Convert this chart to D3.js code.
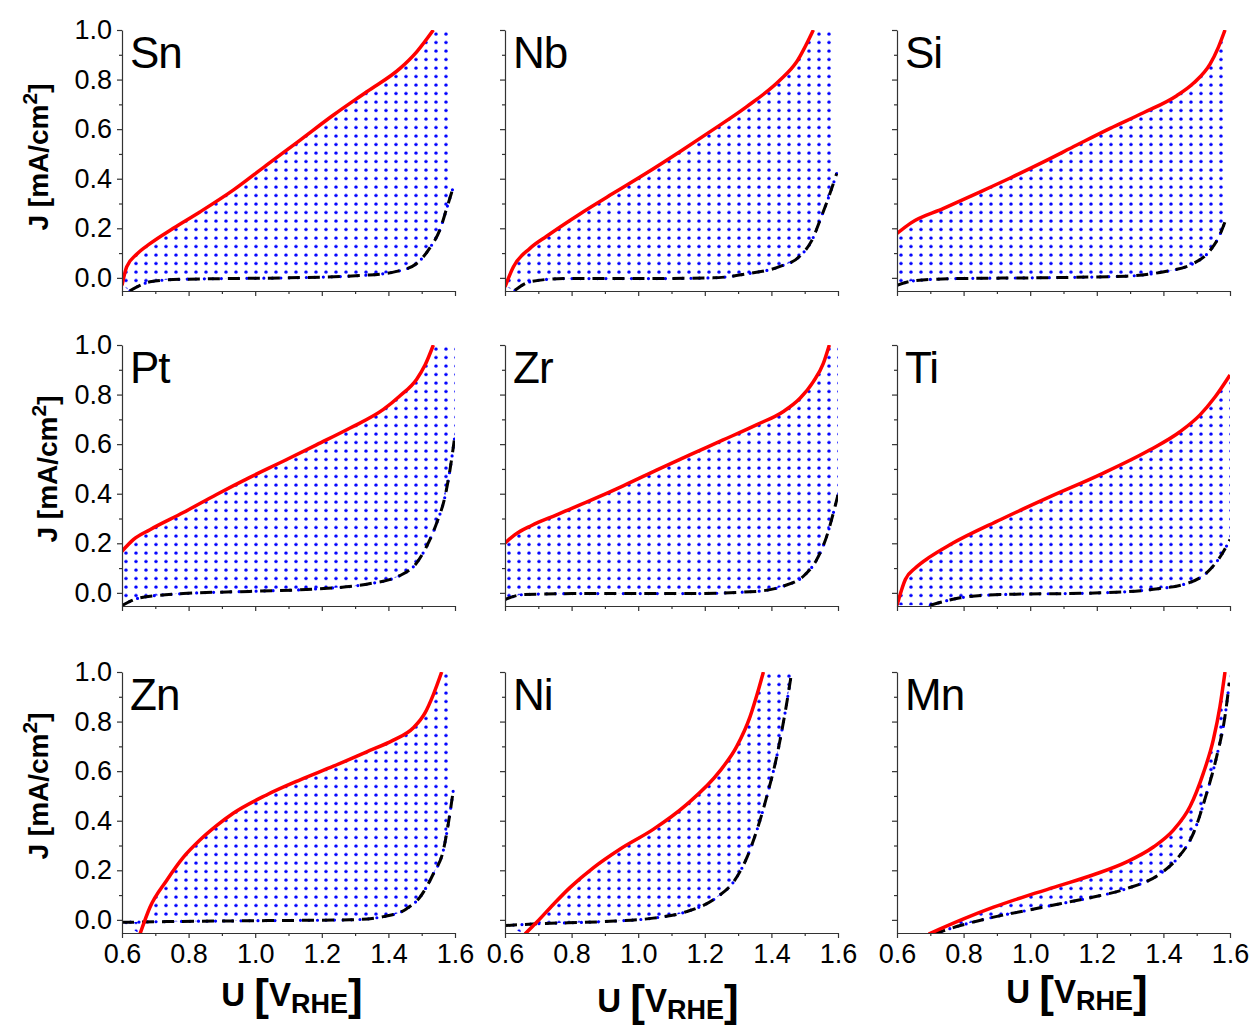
<!DOCTYPE html>
<html lang="en">
<head>
<meta charset="UTF-8">
<script src="https://d3js.org/d3.v7.min.js"></script>
<title>J-U curves</title>
<style>
    body { margin: 0; background: #fff; }
    svg { display: block; font-family: "Liberation Sans", Arial, sans-serif; }
    .axis path, .axis line { stroke: #333; stroke-width: 1.2px; }
    .axis text { font-size: 27px; fill: #000; font-family: "Liberation Sans", Arial, sans-serif; }
    .red { fill: none; stroke: #ff0000; stroke-width: 3.5px; }
    .dash { fill: none; stroke: #000; stroke-width: 3px; stroke-dasharray: 12 8; }
    .dots { fill: none; stroke: #0000ff; stroke-width: 3.2px; stroke-dasharray: 0 8.5; stroke-linecap: round; }
    .name { font-size: 44px; letter-spacing: -1px; }
    .ylab, .xlab { font-weight: bold; }
</style>
</head>
<body>
<svg id="chart" width="1257" height="1025"></svg>
<script>
// panel names, in reading order
const metals = ["Sn", "Nb", "Si", "Pt", "Zr", "Ti", "Zn", "Ni", "Mn"];
const xTicks = [0.6, 0.8, 1.0, 1.2, 1.4, 1.6];
const xMinor = [0.7, 0.9, 1.1, 1.3, 1.5];
const yTicks = [0.0, 0.2, 0.4, 0.6, 0.8, 1.0];
const yMinor = [0.1, 0.3, 0.5, 0.7, 0.9];

// [U, J]: red = solid curve, dash = black dashed curve
const redSn = [[0.6,-0.03],[0.614,0.044],[0.644,0.095],[0.684,0.138],[0.754,0.2],[0.834,0.266],[0.934,0.354],[1.034,0.455],[1.135,0.556],[1.235,0.657],[1.335,0.751],[1.435,0.845],[1.485,0.912],[1.535,1.0]];
const dashSn = [[0.624,-0.052],[0.684,-0.016],[0.754,-0.007],[0.9,-0.003],[1.1,0.0],[1.335,0.011],[1.425,0.026],[1.485,0.058],[1.525,0.122],[1.555,0.195],[1.575,0.28],[1.595,0.367]];
const redNb = [[0.6,-0.036],[0.625,0.044],[0.675,0.119],[0.725,0.168],[0.825,0.258],[0.925,0.341],[1.025,0.423],[1.125,0.509],[1.225,0.598],[1.325,0.69],[1.426,0.798],[1.476,0.872],[1.526,1.0]];
const dashNb = [[0.63,-0.05],[0.675,-0.016],[0.775,-0.003],[1.025,-0.003],[1.225,0.0],[1.325,0.016],[1.426,0.046],[1.486,0.088],[1.521,0.15],[1.551,0.25],[1.576,0.341],[1.596,0.421]];
const redSi = [[0.6,0.179],[0.64,0.22],[0.74,0.28],[0.84,0.341],[0.94,0.403],[1.04,0.468],[1.14,0.536],[1.24,0.603],[1.34,0.666],[1.44,0.735],[1.49,0.785],[1.54,0.862],[1.565,0.93],[1.585,1.0]];
const dashSi = [[0.6,-0.03],[0.65,-0.012],[0.77,-0.003],[1.0,0.0],[1.29,0.007],[1.39,0.022],[1.49,0.058],[1.54,0.11],[1.57,0.175],[1.585,0.226]];
const redPt = [[0.6,0.168],[0.634,0.215],[0.684,0.255],[0.784,0.324],[0.884,0.397],[0.984,0.466],[1.084,0.531],[1.185,0.598],[1.285,0.665],[1.385,0.74],[1.435,0.795],[1.485,0.862],[1.51,0.919],[1.535,1.0]];
const dashPt = [[0.6,-0.051],[0.654,-0.02],[0.784,-0.003],[0.984,0.006],[1.185,0.016],[1.335,0.035],[1.435,0.07],[1.485,0.121],[1.515,0.188],[1.545,0.282],[1.57,0.389],[1.585,0.497],[1.6,0.638]];
const redZr = [[0.6,0.201],[0.63,0.235],[0.68,0.272],[0.755,0.315],[0.855,0.372],[0.955,0.432],[1.055,0.495],[1.155,0.557],[1.255,0.617],[1.355,0.678],[1.435,0.731],[1.486,0.785],[1.526,0.852],[1.556,0.926],[1.574,1.0]];
const dashZr = [[0.6,-0.027],[0.655,-0.007],[0.8,-0.003],[1.155,-0.003],[1.355,0.006],[1.435,0.027],[1.496,0.067],[1.536,0.134],[1.566,0.228],[1.586,0.322],[1.6,0.396]];
const redTi = [[0.6,-0.05],[0.625,0.054],[0.655,0.1],[0.7,0.146],[0.76,0.195],[0.91,0.295],[1.06,0.388],[1.21,0.477],[1.36,0.577],[1.45,0.65],[1.51,0.718],[1.555,0.79],[1.6,0.879]];
const dashTi = [[0.7,-0.05],[0.79,-0.02],[0.91,-0.007],[1.21,0.0],[1.36,0.013],[1.48,0.042],[1.54,0.094],[1.575,0.155],[1.6,0.215]];
const redZn = [[0.654,-0.057],[0.684,0.051],[0.734,0.159],[0.784,0.252],[0.834,0.322],[0.884,0.38],[0.934,0.43],[1.034,0.504],[1.135,0.565],[1.235,0.62],[1.335,0.678],[1.415,0.725],[1.475,0.775],[1.51,0.835],[1.535,0.909],[1.56,1.0]];
const dashZn = [[0.6,-0.01],[0.734,-0.007],[1.034,-0.003],[1.285,0.0],[1.385,0.013],[1.455,0.045],[1.495,0.092],[1.535,0.186],[1.565,0.281],[1.58,0.389],[1.595,0.524]];
const redNi = [[0.66,-0.057],[0.695,-0.01],[0.745,0.062],[0.795,0.13],[0.865,0.21],[0.945,0.285],[1.045,0.365],[1.145,0.465],[1.245,0.6],[1.296,0.7],[1.336,0.82],[1.356,0.905],[1.376,1.0]];
const dashNi = [[0.6,-0.023],[0.695,-0.016],[0.895,-0.007],[1.045,0.007],[1.145,0.033],[1.235,0.09],[1.29,0.16],[1.326,0.25],[1.356,0.36],[1.386,0.497],[1.416,0.659],[1.441,0.835],[1.461,1.0]];
const redMn = [[0.695,-0.057],[0.8,0.004],[0.89,0.051],[0.99,0.097],[1.09,0.139],[1.19,0.182],[1.29,0.234],[1.37,0.294],[1.43,0.362],[1.48,0.457],[1.52,0.592],[1.55,0.727],[1.57,0.862],[1.585,1.0]];
const dashMn = [[0.71,-0.057],[0.79,-0.023],[0.89,0.011],[0.99,0.038],[1.09,0.065],[1.19,0.092],[1.29,0.126],[1.39,0.186],[1.44,0.245],[1.49,0.349],[1.53,0.511],[1.56,0.659],[1.585,0.822],[1.598,0.957]];

const reds = [redSn, redNb, redSi, redPt, redZr, redTi, redZn, redNi, redMn];
const dashes = [dashSn, dashNb, dashSi, dashPt, dashZr, dashTi, dashZn, dashNi, dashMn];

// layout
const colLeft = [122, 505, 897];
const rowTop = [30, 345, 672];
const W = 333, H = 261;
const yLabX = [48, 57, 48], yLabY = [157, 469, 786];
const xLabX = [292, 668, 1077], xLabY = [1006, 1012, 1003];

const svg = d3.select("#chart");
const defs = svg.append("defs");
const pat = defs.append("pattern").attr("id", "dotfill")
    .attr("patternUnits", "userSpaceOnUse")
    .attr("width", 10).attr("height", 8.5);
pat.append("circle").attr("cx", 4).attr("cy", 4).attr("r", 1.7).attr("fill", "#0000ff");
defs.append("clipPath").attr("id", "plotclip")
    .append("rect").attr("x", 0).attr("y", 0).attr("width", W).attr("height", H);

const x = d3.scaleLinear().domain([0.6, 1.6]).range([0, W]);
const y = d3.scaleLinear().domain([-0.053, 1.0]).range([H, 0]);
const line = d3.line().x(d => x(d[0])).y(d => y(d[1])).curve(d3.curveMonotoneX);

metals.forEach((m, i) => {
    const r = Math.floor(i / 3), c = i % 3;
    const g = svg.append("g").attr("transform", `translate(${colLeft[c]},${rowTop[r]})`);
    const red = reds[i], dash = dashes[i];

    // dotted fill between the two curves
    const lastR = red[red.length - 1], lastD = dash[dash.length - 1];
    let d = line(red);
    if (lastR[1] >= 1.0) d += `L${x(lastD[0])},${y(1.0)}`;
    d += "L" + line(dash.slice().reverse()).slice(1) + "Z";
    const plot = g.append("g").attr("clip-path", "url(#plotclip)");
    plot.append("path").attr("d", d).attr("fill", "url(#dotfill)");
    plot.append("path").attr("class", "dots").attr("d", line(dash));
    plot.append("path").attr("class", "dash").attr("d", line(dash));
    plot.append("path").attr("class", "red").attr("d", line(red));

    // axes
    const fmt = d3.format(".1f");
    g.append("g").attr("class", "axis").attr("transform", `translate(0,${H})`)
        .call(d3.axisBottom(x).tickValues(xTicks).tickSize(5).tickPadding(6).tickSizeOuter(0)
            .tickFormat(r === 2 ? fmt : ""));
    g.append("g").attr("class", "axis").attr("transform", `translate(0,${H})`)
        .call(d3.axisBottom(x).tickValues(xMinor).tickSize(3).tickSizeOuter(0).tickFormat(""));
    g.append("g").attr("class", "axis")
        .call(d3.axisLeft(y).tickValues(yTicks).tickSize(5).tickPadding(5).tickSizeOuter(0)
            .tickFormat(c === 0 ? fmt : ""));
    g.append("g").attr("class", "axis")
        .call(d3.axisLeft(y).tickValues(yMinor).tickSize(3).tickSizeOuter(0).tickFormat(""))
        .select(".domain").remove();

    g.append("text").attr("class", "name").attr("x", 8).attr("y", 38).text(m);
});

// y titles
rowTop.forEach((t, r) => {
    const tx = svg.append("text").attr("class", "ylab")
        .attr("transform", `translate(${yLabX[r]},${yLabY[r]}) rotate(-90)`)
        .attr("text-anchor", "middle").attr("font-size", 28);
    tx.append("tspan").text("J [mA/cm");
    tx.append("tspan").attr("font-size", 21).attr("dy", -11).text("2");
    tx.append("tspan").attr("dy", 11).text("]");
});

// x titles
colLeft.forEach((l, c) => {
    const tx = svg.append("text").attr("class", "xlab")
        .attr("x", xLabX[c]).attr("y", xLabY[c])
        .attr("text-anchor", "middle").attr("font-size", 33);
    tx.append("tspan").text("U ");
    tx.append("tspan").attr("font-size", 44).attr("dy", 4).text("[");
    tx.append("tspan").attr("dy", -4).text("V");
    tx.append("tspan").attr("font-size", 27).attr("dy", 7).text("RHE");
    tx.append("tspan").attr("font-size", 44).attr("dy", -3).text("]");
});
</script>
</body>
</html>
